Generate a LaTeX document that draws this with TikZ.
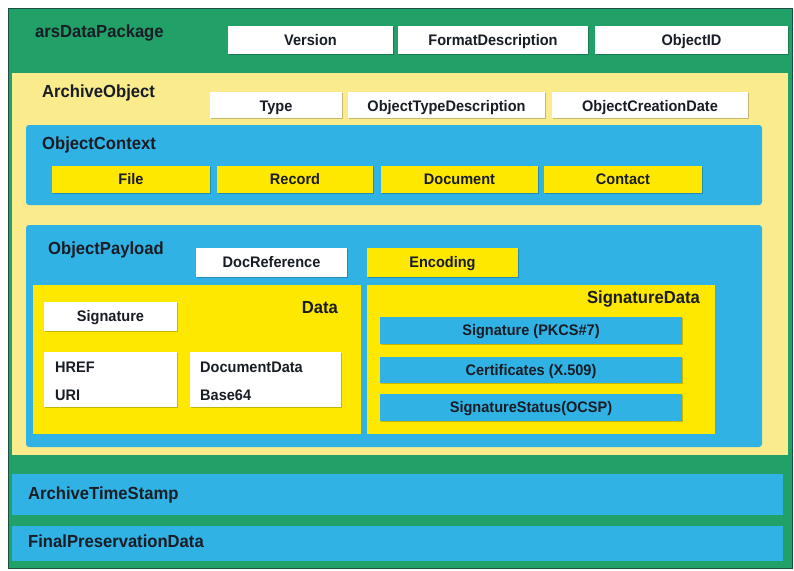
\documentclass[tikz,border=0pt]{standalone}
\usepackage{fontspec}
\setmainfont{Liberation Sans}[FakeStretch=0.95]
\usetikzlibrary{shadows}

\definecolor{pkggreen}{RGB}{33,160,104}
\definecolor{pkgborder}{RGB}{28,78,68}
\definecolor{paleyellow}{RGB}{250,236,140}
\definecolor{brightyellow}{RGB}{255,232,0}
\definecolor{boxblue}{RGB}{48,178,228}
\definecolor{inktext}{RGB}{24,28,36}

\tikzset{
	title/.style={anchor=west, inner sep=0pt, text height=12.4pt, text depth=0pt,
		font=\fontsize{17.5}{20}\selectfont\bfseries, text=inktext},
	field/.style={inner sep=0pt, text height=10.9pt, text depth=0pt,
		font=\fontsize{15.3}{17}\selectfont\bfseries, text=inktext},
	shade box/.style={drop shadow={shadow xshift=1.3pt, shadow yshift=-1.3pt,
		fill=black, opacity=0.22}},
}

\begin{document}
\begin{tikzpicture}[x=1pt,y=-1pt]
	\useasboundingbox (0,0) rectangle (794,570);
	
	% arsDataPackage
	\draw[pkgborder, fill=pkggreen, line width=1pt] (8,8) rectangle (792,568);
	\node[title] (pkg) at (35,31) {arsDataPackage};
	\foreach \xa/\xb/\txt [count=\i] in {228/393/Version,398/588/FormatDescription,595/788/ObjectID}
		\path[fill=white, shade box] (\xa,26) rectangle node[field] (head\i) {\txt} (\xb,54);
	
	% ArchiveObject
	\fill[paleyellow] (12,73) rectangle (788,455);
	\node[title] (arch) at (42,91) {ArchiveObject};
	\foreach \xa/\xb/\txt [count=\i] in {210/342/Type,348/545/ObjectTypeDescription,552/748/ObjectCreationDate}
		\path[fill=white, shade box] (\xa,92) rectangle node[field, yshift=-1pt] (meta\i) {\txt} (\xb,118);
	
	% ObjectContext
	\fill[boxblue, rounded corners=3pt] (26,125) rectangle (762,205);
	\node[title] (ctx) at (42,143) {ObjectContext};
	\foreach \xa/\xb/\txt [count=\i] in {52/210/File,217/373/Record,381/538/Document,544/702/Contact}
		\path[fill=brightyellow, shade box] (\xa,166) rectangle node[field] (ctx\i) {\txt} (\xb,193);
	
	% ObjectPayload
	\fill[boxblue, rounded corners=3pt] (26,225) rectangle (762,447);
	\node[title] (load) at (48,248) {ObjectPayload};
	\path[fill=white, shade box] (196,248) rectangle node[field] (docref) {DocReference} (347,277);
	\path[fill=brightyellow, shade box] (367,248) rectangle node[field] (enc) {Encoding} (518,277);
	
	% Data
	\fill[brightyellow] (33,285) rectangle (361,434);
	\node[title, anchor=east] (data) at (338,307) {Data};
	\path[fill=white, shade box] (44,302) rectangle node[field] (sig) {Signature} (177,331);
	\path[fill=white, shade box] (44,352) rectangle (177,407);
	\node[field, anchor=west] (href) at (55,367) {HREF};
	\node[field, anchor=west] (uri) at (55,395) {URI};
	\path[fill=white, shade box] (190,352) rectangle (341,407);
	\node[field, anchor=west] (docdata) at (200,367) {DocumentData};
	\node[field, anchor=west] (base) at (200,395) {Base64};
	
	% SignatureData
	\fill[brightyellow] (367,285) rectangle (715,434);
	\node[title, anchor=east] (sigdata) at (700,297) {SignatureData};
	\foreach \ya/\yb/\txt [count=\i] in {317/344/Signature (PKCS\#7),357/383/Certificates (X.509),394/421/SignatureStatus(OCSP)}
		\path[fill=boxblue, shade box] (380,\ya) rectangle node[field] (sig\i) {\txt} (682,\yb);
	
	% ArchiveTimeStamp, FinalPreservationData
	\fill[boxblue] (12,474) rectangle (783,515);
	\node[title] (stamp) at (28,493) {ArchiveTimeStamp};
	\fill[boxblue] (12,526) rectangle (783,561);
	\node[title] (final) at (28,541) {FinalPreservationData};
\end{tikzpicture}
\end{document}
